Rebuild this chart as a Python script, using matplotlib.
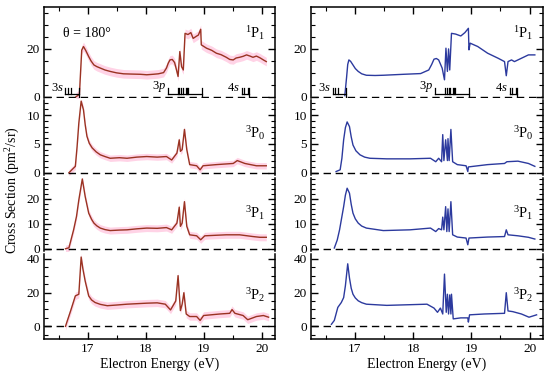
import matplotlib
matplotlib.use('Agg')
import matplotlib.pyplot as plt
from matplotlib.ticker import MultipleLocator

plt.rcParams['font.family'] = ['Liberation Serif', 'DejaVu Serif']
plt.rcParams['mathtext.fontset'] = 'custom'
plt.rcParams['mathtext.rm'] = 'Liberation Serif'
plt.rcParams['mathtext.it'] = 'Liberation Serif:italic'

# ---- data (energy in eV, cross section in pm^2/sr) ----
# experiment (left column)
exp_1p1_x = [16.80, 16.86, 16.90, 16.93, 16.97, 17.02, 17.06, 17.11, 17.16, 17.22, 17.30, 17.39,
             17.50, 17.62, 17.75, 17.91, 18.02, 18.13, 18.22, 18.31, 18.36, 18.39,
             18.42, 18.46, 18.50, 18.53, 18.56, 18.59, 18.62, 18.65, 18.68, 18.73, 18.78, 18.82,
             18.87, 18.91, 18.95, 18.96, 19.05, 19.14, 19.22, 19.30, 19.39, 19.45, 19.51, 19.56,
             19.62, 19.68, 19.74, 19.80, 19.85, 19.91, 19.97, 20.03, 20.08]
exp_1p1_y = [0.0, 1.0, 19.5, 21.0, 19.3, 16.8, 15.0, 13.3, 12.6, 12.0, 11.2, 10.6,
             10.0, 9.6, 9.5, 9.4, 9.2, 9.4, 9.6, 10.1, 12.0, 14.0,
             15.4, 15.6, 14.3, 11.5, 8.5, 18.9, 12.6, 11.2, 26.5, 26.0, 26.8, 24.4,
             25.2, 25.8, 28.2, 21.7, 20.3, 19.4, 18.2, 17.6, 16.5, 15.6, 15.4, 16.2,
             16.5, 16.9, 17.5, 17.0, 16.5, 17.0, 16.3, 15.4, 14.7]

exp_3p0_x = [16.68, 16.79, 16.82, 16.85, 16.89, 16.93, 16.96, 16.99, 17.03, 17.08, 17.15, 17.22,
             17.30, 17.39, 17.55, 17.68, 17.85, 18.02, 18.20, 18.36,
             18.45, 18.54, 18.58, 18.60, 18.63, 18.67, 18.71, 18.76, 18.88, 18.94, 18.99, 19.22,
             19.51, 19.58, 19.71, 19.91, 20.08]
exp_3p0_y = [0.0, 1.1, 4.5, 8.6, 12.4, 10.9, 8.3, 6.3, 5.1, 4.3, 3.6, 3.1,
             2.8, 2.5, 2.6, 2.5, 2.7, 2.8, 2.7, 2.8,
             2.2, 3.4, 5.7, 3.7, 4.0, 7.5, 4.0, 1.4, 1.2, 0.5, 1.2, 1.4,
             1.6, 2.1, 1.6, 1.2, 1.2]

exp_3p1_x = [16.62, 16.68, 16.76, 16.81, 16.85, 16.91, 16.96, 17.02, 17.07, 17.11, 17.16, 17.22,
             17.30, 17.39, 17.55, 17.68, 17.85, 18.02, 18.20,
             18.36, 18.45, 18.54, 18.58, 18.60, 18.63, 18.67, 18.71, 18.76, 18.88, 18.95, 19.02,
             19.20, 19.39, 19.62, 19.85, 19.97, 20.08]
exp_3p1_y = [0.0, 0.4, 7.6, 13.0, 19.6, 28.0, 20.9, 14.3, 11.8, 10.3, 9.2, 8.3,
             7.7, 7.3, 7.5, 7.6, 8.0, 8.3, 8.2,
             8.5, 7.6, 10.3, 16.7, 9.0, 10.3, 18.9, 9.0, 5.6, 5.2, 3.6, 5.2,
             5.4, 5.6, 5.6, 4.9, 4.6, 4.6]

exp_3p2_x = [16.62, 16.71, 16.79, 16.85, 16.87, 16.89, 16.92, 16.96, 17.02, 17.07, 17.13, 17.22,
             17.34, 17.50, 17.68, 17.85, 18.02, 18.20, 18.34,
             18.43, 18.52, 18.56, 18.60, 18.63, 18.66, 18.70, 18.76, 18.88, 18.94, 19.00, 19.28,
             19.45, 19.49, 19.54, 19.68, 19.76, 19.91, 20.03, 20.12]
exp_3p2_y = [0.0, 9.3, 18.0, 19.0, 30.0, 41.0, 34.0, 26.7, 18.0, 15.6, 14.1, 13.0,
             12.2, 12.6, 13.1, 13.4, 13.7, 13.9, 13.1,
             9.7, 15.0, 30.0, 9.3, 13.1, 19.9, 7.3, 5.8, 5.8, 3.5, 6.4, 7.3,
             7.7, 9.9, 7.7, 6.4, 3.9, 5.8, 6.4, 5.4]

# error band half-widths of the experiment, one per panel
exp_err = [1.8, 0.55, 1.4, 2.2]

# theory (right column)
th_1p1_x = [16.83, 16.86, 16.88, 16.90, 16.93, 16.97, 17.01, 17.06, 17.12, 17.20, 17.35, 17.49,
            17.84, 18.13, 18.27, 18.32, 18.36, 18.40, 18.44, 18.50,
            18.54, 18.565, 18.59, 18.61, 18.63, 18.66, 18.73, 18.82, 18.89, 18.95, 18.96, 18.98,
            19.11, 19.28, 19.46, 19.57, 19.60, 19.63, 19.69, 19.74, 19.86, 19.98, 20.09]
th_1p1_y = [0.5, 8.0, 13.5, 15.4, 14.8, 13.3, 11.8, 10.6, 9.6, 9.0, 8.9, 9.0,
            9.4, 9.7, 11.2, 13.5, 15.7, 16.0, 15.4, 12.0,
            7.1, 20.3, 10.6, 20.0, 11.2, 26.5, 26.2, 25.4, 26.8, 28.6, 19.6, 22.4,
            21.0, 18.2, 16.1, 14.7, 8.8, 14.7, 15.4, 14.7, 16.1, 17.5, 17.5]

th_3p0_x = [16.68, 16.75, 16.78, 16.81, 16.84, 16.87, 16.91, 16.94, 16.97, 17.02, 17.09, 17.17,
            17.26, 17.55, 17.95, 18.30, 18.39,
            18.44, 18.49, 18.51, 18.53, 18.56, 18.59, 18.60, 18.62, 18.65, 18.68, 18.76, 18.91,
            18.94, 18.95, 19.28, 19.57, 19.61, 19.80, 19.98, 20.09]
th_3p0_y = [0.2, 0.5, 2.5, 5.7, 7.8, 8.8, 8.0, 6.2, 4.8, 3.8, 3.1, 2.7,
            2.5, 2.4, 2.4, 2.5, 1.9,
            2.5, 1.9, 6.6, 2.1, 5.7, 2.1, 5.9, 2.1, 7.5, 1.9, 1.4, 1.2,
            0.2, 1.0, 1.4, 1.6, 1.9, 2.0, 1.6, 1.1]

th_3p1_x = [16.65, 16.70, 16.74, 16.81, 16.84, 16.87, 16.91, 16.94, 16.97, 17.01, 17.06, 17.12,
            17.20, 17.49, 17.95, 18.30, 18.39,
            18.44, 18.49, 18.51, 18.53, 18.56, 18.58, 18.60, 18.62, 18.65, 18.68, 18.76, 18.91,
            18.94, 18.96, 19.28, 19.57, 19.60, 19.63, 19.80, 19.98, 20.09]
th_3p1_y = [0.3, 3.5, 7.6, 16.9, 21.5, 24.3, 22.3, 17.8, 14.3, 12.0, 10.3, 9.1,
            8.3, 7.3, 7.6, 8.3, 6.9,
            8.1, 7.6, 12.7, 7.6, 16.9, 6.9, 16.0, 6.9, 18.9, 5.6, 4.7, 4.3,
            1.6, 4.3, 4.7, 4.9, 7.6, 5.6, 5.2, 4.6, 3.9]

th_3p2_x = [16.60, 16.65, 16.71, 16.77, 16.81, 16.84, 16.86, 16.88, 16.91, 16.94, 16.97, 17.01,
            17.06, 17.12, 17.20, 17.55,
            17.95, 18.24, 18.36, 18.42, 18.47, 18.51, 18.54, 18.57, 18.59, 18.61, 18.63, 18.65,
            18.66, 18.69, 18.82, 18.94, 18.95, 18.97, 19.22, 19.57, 19.60, 19.63, 19.71, 19.86,
            19.99, 20.12]
th_3p2_y = [1.2, 3.5, 11.2, 14.1, 17.0, 24.0, 30.5, 37.0, 28.6, 22.5, 19.0, 16.8,
            15.1, 14.0, 13.1, 12.4,
            12.8, 13.1, 10.8, 8.3, 10.8, 7.3, 30.9, 8.3, 19.0, 7.3, 18.6, 7.3,
            19.0, 4.4, 5.0, 5.0, 2.5, 6.8, 7.3, 7.7, 19.9, 9.1, 8.7, 7.3,
            5.4, 6.8]

# threshold energies shown as brackets in the top panels
thr_3s = [16.62, 16.67, 16.72, 16.85]
thr_3p = [18.38, 18.555, 18.576, 18.613, 18.637, 18.694, 18.711, 18.727, 18.966]
thr_4s = [19.66, 19.69, 19.76, 19.78]

panel_labels = [r'$^{1}\mathrm{P}_{1}$', r'$^{3}\mathrm{P}_{0}$',
                r'$^{3}\mathrm{P}_{1}$', r'$^{3}\mathrm{P}_{2}$']
exp_curves = [(exp_1p1_x, exp_1p1_y), (exp_3p0_x, exp_3p0_y),
              (exp_3p1_x, exp_3p1_y), (exp_3p2_x, exp_3p2_y)]
th_curves = [(th_1p1_x, th_1p1_y), (th_3p0_x, th_3p0_y),
             (th_3p1_x, th_3p1_y), (th_3p2_x, th_3p2_y)]

# ---- layout ----
W, H = 550, 374
fig = plt.figure(figsize=(W / 100, H / 100), dpi=100)

cols_px = [(44, 275), (311, 543)]
rows_px = [(7, 98), (100, 175), (178, 251), (254, 339)]
ylims = [(-0.5, 37.5), (-0.4, 12.6), (-0.9, 28.4), (-7.5, 42.8)]
majors = [20, 5, 10, 20]
minors = [5, 1, 2, 5]
label_y = [0.71, 0.56, 0.52, 0.52]

exp_color = '#9a3322'
th_color = '#2c3a9e'
band_color = '#ffd3e6'


def brackets(ax):
    for thr, lab in [(thr_3s, '3$s$'), (thr_3p, '3$p$'), (thr_4s, '4$s$')]:
        ax.plot([thr[0], thr[-1]], [1.3, 1.3], color='k', lw=0.9)
        for e in thr[:-1]:
            ax.plot([e, e], [1.3, 3.7], color='k', lw=0.9)
        ax.plot([thr[-1], thr[-1]], [0, 3.7], color='k', lw=0.9)
        ax.text(thr[0] - 0.03, 1.0, lab, ha='right', va='bottom', fontsize=9)


for c, (x0, x1) in enumerate(cols_px):
    for r, (y0, y1) in enumerate(rows_px):
        ax = fig.add_axes([x0 / W, 1 - y1 / H, (x1 - x0) / W, (y1 - y0) / H])
        ax.set_xlim(16.25, 20.23)
        ax.set_ylim(*ylims[r])
        ax.axhline(0, color='k', lw=1.0, dashes=(5.3, 3.4))

        if c == 0:
            xs, ys = exp_curves[r]
            lo = [v - exp_err[r] for v in ys]
            hi = [v + exp_err[r] for v in ys]
            ax.fill_between(xs, lo, hi, color=band_color, lw=0)
            ax.plot(xs, ys, color=exp_color, lw=1.0, clip_on=False)
        else:
            xs, ys = th_curves[r]
            ax.plot(xs, ys, color=th_color, lw=1.0, clip_on=False)

        ax.text(0.87, label_y[r], panel_labels[r], transform=ax.transAxes,
                fontsize=10.5, va='center', ha='left')

        ax.yaxis.set_major_locator(MultipleLocator(majors[r]))
        ax.yaxis.set_minor_locator(MultipleLocator(minors[r]))
        ax.xaxis.set_major_locator(MultipleLocator(1))
        ax.xaxis.set_minor_locator(MultipleLocator(0.5))
        ax.tick_params(which='both', direction='in', left=True, right=True,
                       top=(r == 0), bottom=(r == 3), labelsize=9.5, pad=3)
        ax.tick_params(which='major', length=5, width=1)
        ax.tick_params(which='minor', length=3, width=0.8)
        if r != 3:
            ax.tick_params(axis='x', labelbottom=False)
        ax.spines['top'].set_visible(r == 0)
        ax.spines['bottom'].set_visible(r == 3)
        for s in ax.spines.values():
            s.set_linewidth(1.1)

        if r == 0:
            brackets(ax)
            if c == 0:
                ax.text(16.58, 26.5, 'θ = 180°', fontsize=10, va='center')
        if r == 3:
            ax.set_xlabel('Electron Energy (eV)', fontsize=10, labelpad=2)

fig.text(13 / W, 1 - 190 / H, 'Cross Section (pm$^2$/sr)', rotation=90,
         ha='center', va='center', fontsize=10)

fig.savefig('out.png', dpi=100)
